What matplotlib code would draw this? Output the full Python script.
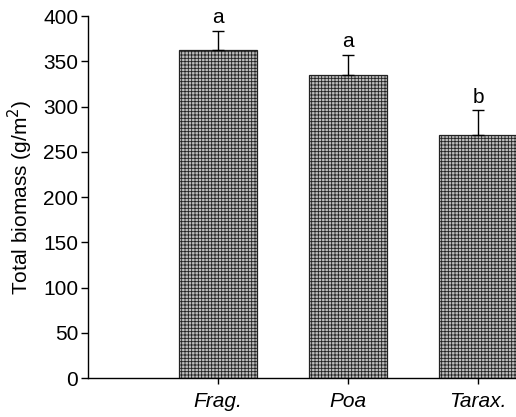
import matplotlib
matplotlib.use('Agg')
import matplotlib.pyplot as plt

plt.rcParams['font.family'] = ['Liberation Sans', 'DejaVu Sans']
plt.rcParams['hatch.linewidth'] = 0.6
plt.rcParams['hatch.color'] = '#666666'

# data
species = ['Frag.', 'Poa', 'Tarax.']
biomass = [363, 335, 268]
se = [21, 22, 28]
letters = ['a', 'a', 'b']

fig = plt.figure(figsize=(5.16, 4.17), dpi=100)
ax = fig.add_axes([0.1705, 0.0935, 0.8295, 0.868])

pos = [1, 2, 3]
ax.bar(pos, biomass, width=0.6, color='#bdbdbd', edgecolor='#222222',
       linewidth=0.9, hatch='+++++', zorder=2)
# one-sided error bars
ax.errorbar(pos, biomass, yerr=[[0, 0, 0], se], fmt='none', ecolor='black',
            elinewidth=1, capsize=4.5, capthick=1, zorder=3)

for p, v, e, l in zip(pos, biomass, se, letters):
    ax.text(p, v + e + 4, l, ha='center', va='bottom', fontsize=15)

ax.set_xlim(0, 3.29)
ax.set_ylim(0, 400)
ax.set_yticks(range(0, 401, 50))
ax.set_xticks(pos)
ax.set_xticklabels(species, fontstyle='italic', fontsize=15)
ax.tick_params(axis='y', labelsize=15, length=5, width=1, direction='out', pad=2)
ax.tick_params(axis='x', length=4, width=1, direction='out', pad=6)
ax.set_ylabel('Total biomass (g/m$^2$)', fontsize=15, labelpad=6)

for s in ['top', 'right']:
    ax.spines[s].set_visible(False)
for s in ['left', 'bottom']:
    ax.spines[s].set_linewidth(1)

fig.savefig('out.png', dpi=100)
